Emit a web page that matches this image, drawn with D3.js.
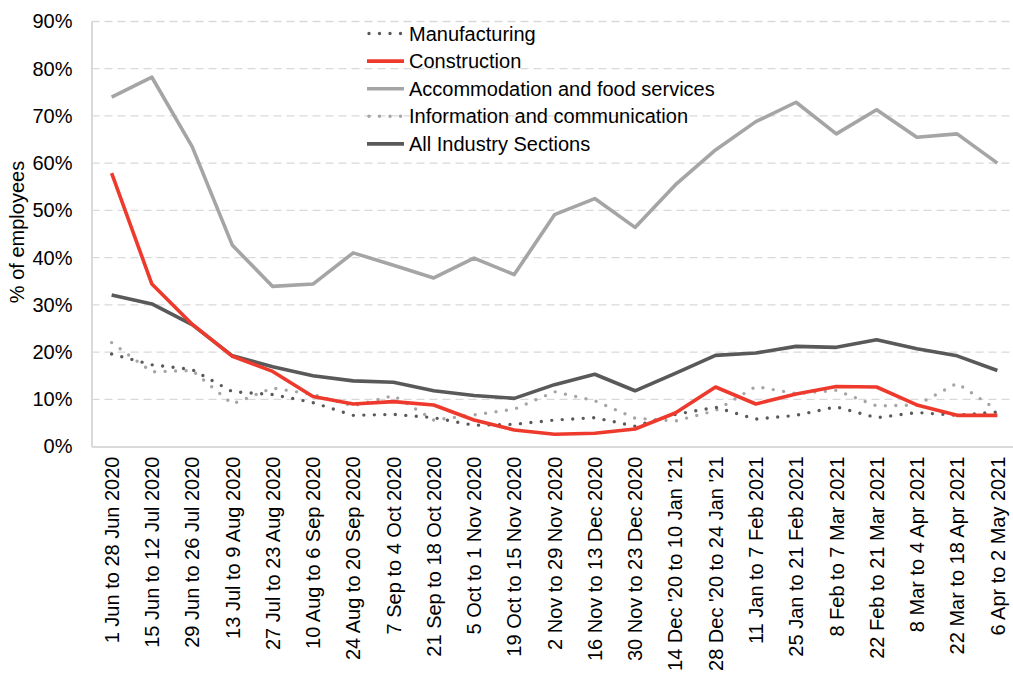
<!DOCTYPE html>
<html>
<head>
<meta charset="utf-8">
<script src="https://cdn.jsdelivr.net/npm/d3@7"></script>
<style>
  html, body { margin: 0; padding: 0; background: #fff; }
  svg { display: block; font-family: "Liberation Sans", Arial, sans-serif; }
</style>
</head>
<body>
<svg id="chart" width="1013" height="673"></svg>
<script>
// Survey periods (x-axis categories)
const periods = [
  "1 Jun to 28 Jun 2020", "15 Jun to 12 Jul 2020", "29 Jun to 26 Jul 2020",
  "13 Jul to 9 Aug 2020", "27 Jul to 23 Aug 2020", "10 Aug to 6 Sep 2020",
  "24 Aug to 20 Sep 2020", "7 Sep to 4 Oct 2020", "21 Sep to 18 Oct 2020",
  "5 Oct to 1 Nov 2020", "19 Oct to 15 Nov 2020", "2 Nov to 29 Nov 2020",
  "16 Nov to 13 Dec 2020", "30 Nov to 23 Dec 2020", "14 Dec '20 to 10 Jan '21",
  "28 Dec '20 to 24 Jan '21", "11 Jan to 7 Feb 2021", "25 Jan to 21 Feb 2021",
  "8 Feb to 7 Mar 2021", "22 Feb to 21 Mar 2021", "8 Mar to 4 Apr 2021",
  "22 Mar to 18 Apr 2021", "6 Apr to 2 May 2021"
];

// Share of employees on furlough, % by industry section
const manufacturing = [19.6, 17.3, 16.3, 11.6, 11.0, 9.3, 6.6, 6.8, 6.1, 4.5, 4.7, 5.6, 6.1, 4.3, 6.8, 8.3, 5.8, 6.6, 8.4, 6.1, 7.2, 6.6, 7.3];
const construction = [57.9, 34.4, 25.9, 19.1, 15.9, 10.6, 9.0, 9.5, 8.8, 5.6, 3.5, 2.6, 2.8, 3.7, 7.1, 12.6, 9.0, 11.1, 12.7, 12.6, 8.8, 6.6, 6.6];
const accommodation = [74.0, 78.2, 63.5, 42.6, 33.9, 34.4, 41.0, 38.4, 35.7, 39.9, 36.4, 49.1, 52.5, 46.4, 55.4, 62.8, 68.8, 72.9, 66.2, 71.3, 65.5, 66.2, 60.0];
const information = [22.0, 15.8, 16.1, 9.0, 12.4, 11.0, 8.6, 10.8, 5.6, 6.7, 7.9, 11.6, 9.7, 6.0, 5.4, 7.6, 12.7, 11.2, 11.9, 8.6, 8.8, 13.4, 7.7];
const allIndustry = [32.1, 30.2, 25.8, 19.2, 16.9, 15.0, 13.9, 13.6, 11.8, 10.8, 10.2, 13.1, 15.3, 11.8, 15.5, 19.3, 19.8, 21.2, 21.0, 22.6, 20.7, 19.2, 16.1];

// Y-axis ticks
const yTicks = [0, 10, 20, 30, 40, 50, 60, 70, 80, 90];

const seriesList = [
  { name: "Manufacturing", values: manufacturing, color: "#595959", dotted: true },
  { name: "Construction", values: construction, color: "#EE3A2C", dotted: false },
  { name: "Accommodation and food services", values: accommodation, color: "#A5A5A5", dotted: false },
  { name: "Information and communication", values: information, color: "#A5A5A5", dotted: true },
  { name: "All Industry Sections", values: allIndustry, color: "#595959", dotted: false }
];

const svg = d3.select("#chart");
const plotLeft = 91.5, plotRight = 1017.5, plotTop = 21.5, plotBottom = 446.5;
const fontSize = 20;

const x = d3.scaleBand().domain(periods).range([plotLeft, plotRight]);
const y = d3.scaleLinear().domain([0, 90]).range([plotBottom, plotTop]);
const cx = d => x(d) + x.bandwidth() / 2;

// Horizontal dashed gridlines
svg.append("g")
  .selectAll("line")
  .data(yTicks.filter(t => t > 0))
  .join("line")
  .attr("x1", plotLeft).attr("x2", plotRight)
  .attr("y1", d => y(d)).attr("y2", d => y(d))
  .attr("stroke", "#D9D9D9")
  .attr("stroke-width", 1.3)
  .attr("stroke-dasharray", "8 5");

// Y axis
const yAxis = svg.append("g")
  .attr("transform", `translate(${plotLeft},0)`)
  .call(d3.axisLeft(y).tickValues(yTicks).tickFormat(d => d + "%").tickSize(0).tickPadding(19));
yAxis.select(".domain").attr("stroke", "#D9D9D9").attr("stroke-width", 2);
yAxis.selectAll("text")
  .attr("font-size", fontSize)
  .attr("fill", "#000")
  .attr("font-family", "Liberation Sans, Arial, sans-serif");

// X axis
const xAxis = svg.append("g")
  .attr("transform", `translate(0,${plotBottom})`)
  .call(d3.axisBottom(x).tickSize(0).tickPadding(0));
xAxis.select(".domain").attr("stroke", "#D9D9D9").attr("stroke-width", 2);
xAxis.selectAll("text")
  .attr("font-size", fontSize)
  .attr("fill", "#000")
  .attr("font-family", "Liberation Sans, Arial, sans-serif")
  .attr("text-anchor", "end")
  .attr("transform", "rotate(-90)")
  .attr("x", -10)
  .attr("y", 0)
  .attr("dy", "0.36em");

// Y-axis title
svg.append("text")
  .attr("transform", `translate(24,${(plotTop + plotBottom) / 2 - 2}) rotate(-90)`)
  .attr("text-anchor", "middle")
  .attr("font-size", fontSize)
  .attr("fill", "#000")
  .text("% of employees");

// Series lines
const line = d3.line()
  .x((d, i) => cx(periods[i]))
  .y(d => y(d));

function styleLine(sel, s) {
  sel.attr("fill", "none")
    .attr("stroke", s.color)
    .attr("stroke-linejoin", "round");
  if (s.dotted) {
    sel.attr("stroke-width", 3.4)
      .attr("stroke-linecap", "round")
      .attr("stroke-dasharray", "0 10.5");
  } else {
    sel.attr("stroke-width", 3.6)
      .attr("stroke-linecap", "butt");
  }
}

const drawOrder = [seriesList[3], seriesList[0], seriesList[2], seriesList[4], seriesList[1]];
drawOrder.forEach(s => {
  svg.append("path").datum(s.values).attr("d", line).call(styleLine, s);
});

// Legend
const legend = svg.append("g");
const legendX = 367, legendY = 33.5, rowH = 27.6;
seriesList.forEach((s, i) => {
  const yy = legendY + i * rowH;
  legend.append("line")
    .attr("x1", s.dotted ? 369 : legendX).attr("x2", 404)
    .attr("y1", yy).attr("y2", yy)
    .call(styleLine, s);
  legend.append("text")
    .attr("x", 409).attr("y", yy)
    .attr("dy", "0.35em")
    .attr("font-size", fontSize)
    .attr("fill", "#000")
    .text(s.name);
});
</script>
</body>
</html>
